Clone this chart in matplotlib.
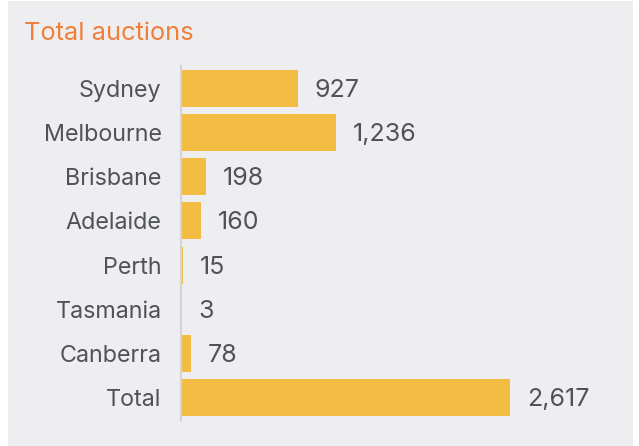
import matplotlib
matplotlib.use("Agg")
from matplotlib import pyplot as plt

cities = ["Sydney", "Melbourne", "Brisbane", "Adelaide", "Perth", "Tasmania", "Canberra", "Total"]
auctions = [927, 1236, 198, 160, 15, 3, 78, 2617]
value_labels = ["927", "1,236", "198", "160", "15", "3", "78", "2,617"]

bg = "#eeeef0"
bar_color = "#f2bd42"
text_color = "#505259"

plt.rcParams['font.family'] = ['Inter', 'DejaVu Sans']

fig = plt.figure(figsize=(6.39, 4.46), dpi=100)
fig.patch.set_facecolor("white")
# grey panel behind the chart
fig.patches.append(plt.Rectangle((8 / 639, 0), 625 / 639, 445 / 446, transform=fig.transFigure,
                                 facecolor=bg, edgecolor="none", zorder=-1))

ax = fig.add_axes([181 / 639, 1 - 420 / 446, 439 / 639, 354 / 446])
ax.set_facecolor("none")

y = list(range(len(cities)))
ax.barh(y, auctions, height=0.84, color=bar_color)
ax.set_ylim(len(cities) - 0.5, -0.5)
ax.set_xlim(0, 2617 * 439 / 329)

for i, (v, lab) in enumerate(zip(auctions, value_labels)):
    ax.annotate(lab, (v, i), xytext=(12, -1.5), textcoords="offset points",
                va="center", ha="left", fontsize=18, color=text_color)

ax.set_yticks(y)
ax.set_yticklabels(cities, fontsize=16.8, color=text_color)
ax.tick_params(axis="y", length=0, pad=14)
ax.set_xticks([])
for s in ["top", "right", "bottom"]:
    ax.spines[s].set_visible(False)
ax.spines["left"].set_color("#d4d4d6")
ax.spines["left"].set_linewidth(1.5)

fig.text(24 / 639, 1 - 33 / 446, "Total auctions", fontsize=18.3, color="#f07f3a",
         ha="left", va="center")

plt.savefig("out.png", dpi=100, facecolor=fig.get_facecolor())
